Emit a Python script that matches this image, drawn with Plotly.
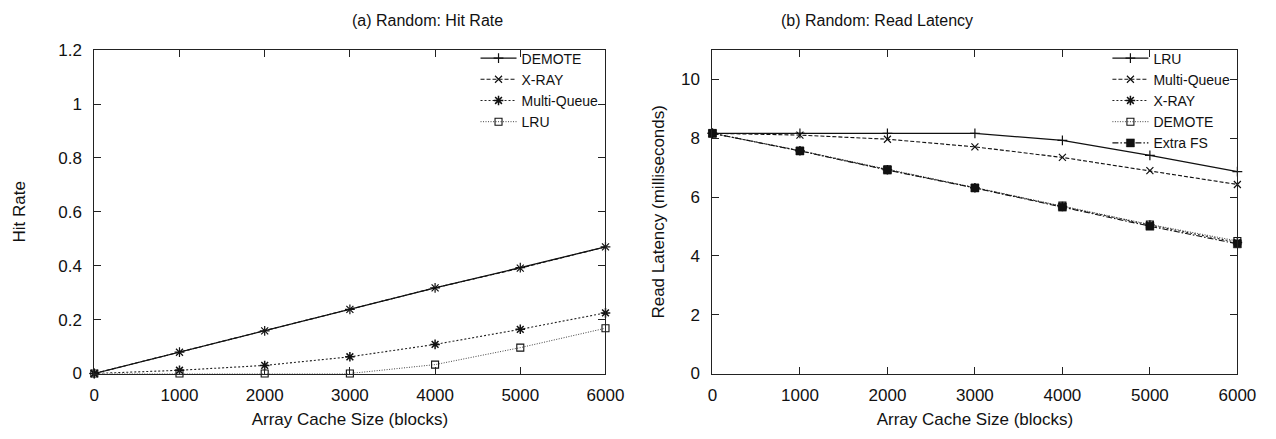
import plotly.graph_objects as go

# ---- data ----
cache_sizes = [0, 1000, 2000, 3000, 4000, 5000, 6000]

# (a) Hit rate
hit_demote = [0.0, 0.079, 0.158, 0.238, 0.318, 0.393, 0.470]
hit_xray = [0.0, 0.079, 0.158, 0.238, 0.318, 0.391, 0.470]
hit_mq = [0.0, 0.012, 0.030, 0.062, 0.108, 0.164, 0.225]
hit_lru = [0.0, 0.0, 0.0, 0.0, 0.033, 0.096, 0.168]

# (b) Read latency (ms)
lat_lru = [8.17, 8.17, 8.17, 8.17, 7.93, 7.42, 6.87]
lat_mq = [8.17, 8.11, 7.97, 7.71, 7.35, 6.90, 6.43]
lat_xray = [8.17, 7.58, 6.93, 6.32, 5.68, 5.05, 4.46]
lat_demote = [8.17, 7.58, 6.95, 6.32, 5.71, 5.07, 4.51]
lat_extrafs = [8.17, 7.57, 6.92, 6.31, 5.66, 5.01, 4.41]

FONT = "Liberation Sans, Arial, sans-serif"

styles = {
    "solid": dict(dash="solid", width=1.3, color="#111"),
    "dash": dict(dash="4px,2px", width=1.1, color="#111"),
    "dot": dict(dash="2px,2px", width=1.1, color="#222"),
    "fine": dict(dash="1px,1.5px", width=1.0, color="#444"),
    "dashdot": dict(dash="6px,2px,1.5px,2px", width=1.1, color="#111"),
}

markers = {
    "plus": dict(symbol="cross-thin", size=7, line=dict(width=1.2, color="#111"), color="#111"),
    "x": dict(symbol="x-thin", size=7, line=dict(width=1.2, color="#111"), color="#111"),
    "star": dict(symbol="asterisk", size=8, line=dict(width=1.5, color="#111"), color="#111"),
    "sqopen": dict(symbol="square-open", size=7, line=dict(width=1.1, color="#111"), color="#111"),
    "sqfill": dict(symbol="square", size=8, line=dict(width=0.5, color="#111"), color="#111"),
}

fig = go.Figure()

left = [
    ("DEMOTE", hit_demote, "solid", "plus"),
    ("X-RAY", hit_xray, "dash", "x"),
    ("Multi-Queue", hit_mq, "dot", "star"),
    ("LRU", hit_lru, "fine", "sqopen"),
]
for name, ys, ls, mk in left:
    fig.add_trace(go.Scatter(x=cache_sizes, y=ys, name=name, mode="lines+markers",
                             line=styles[ls], marker=markers[mk],
                             xaxis="x", yaxis="y", legend="legend", cliponaxis=False))

right = [
    ("LRU", lat_lru, "solid", "plus"),
    ("Multi-Queue", lat_mq, "dash", "x"),
    ("X-RAY", lat_xray, "dot", "star"),
    ("DEMOTE", lat_demote, "fine", "sqopen"),
    ("Extra FS", lat_extrafs, "dashdot", "sqfill"),
]
for name, ys, ls, mk in right:
    fig.add_trace(go.Scatter(x=cache_sizes, y=ys, name=name, mode="lines+markers",
                             line=styles[ls], marker=markers[mk],
                             xaxis="x2", yaxis="y2", legend="legend2", cliponaxis=False))

W, H = 1276, 439
ax_common = dict(showgrid=False, zeroline=False, showline=True, linecolor="#222", linewidth=1,
                 mirror="ticks", ticks="inside", ticklen=7, tickcolor="#222",
                 tickfont=dict(family=FONT, size=17, color="#111"),
                 title_font=dict(family=FONT, size=17, color="#111"))

yb, yt = 1 - 381 / H, 1 - 43 / H
lx0, lx1 = 91 / W, 612 / W
rx0, rx1 = 721 / W, 1256 / W

legend_common = dict(xanchor="right", yanchor="top", bgcolor="rgba(0,0,0,0)",
                     font=dict(family=FONT, size=14, color="#111"),
                     tracegroupgap=0, itemwidth=36)

fig.update_layout(
    width=W, height=H,
    margin=dict(l=0, r=0, t=0, b=0),
    paper_bgcolor="white", plot_bgcolor="white",
    font=dict(family=FONT, color="#111"),
    showlegend=True,
    xaxis=dict(domain=[lx0, lx1], range=[0, 6000], dtick=1000, anchor="y", ticklabelstandoff=6,
               title=dict(text="Array Cache Size (blocks)", standoff=9), **ax_common),
    yaxis=dict(domain=[yb, yt], range=[0, 1.2], dtick=0.2, anchor="x", ticklabelstandoff=8,
               title=dict(text="Hit Rate", standoff=28), **ax_common),
    xaxis2=dict(domain=[rx0, rx1], range=[0, 6000], dtick=1000, anchor="y2", ticklabelstandoff=6,
                title=dict(text="Array Cache Size (blocks)", standoff=9), **ax_common),
    yaxis2=dict(domain=[yb, yt], range=[0, 11], dtick=2, anchor="x2", ticklabelstandoff=8,
                title=dict(text="Read Latency (milliseconds)", standoff=12), **ax_common),
    legend=dict(x=lx1 - 2 / W, y=1 - 35 / H, **legend_common),
    legend2=dict(x=rx1 - 2 / W, y=1 - 35 / H, **legend_common),
    annotations=[
        dict(text="(a) Random: Hit Rate", x=(lx0 + lx1) / 2, y=1 - 12 / H, xref="paper", yref="paper",
             showarrow=False, font=dict(family=FONT, size=16, color="#111"), yanchor="middle"),
        dict(text="(b) Random: Read Latency", x=(rx0 + rx1) / 2, y=1 - 12 / H, xref="paper", yref="paper",
             showarrow=False, font=dict(family=FONT, size=16, color="#111"), yanchor="middle"),
    ],
)

fig.write_html("out.html")
